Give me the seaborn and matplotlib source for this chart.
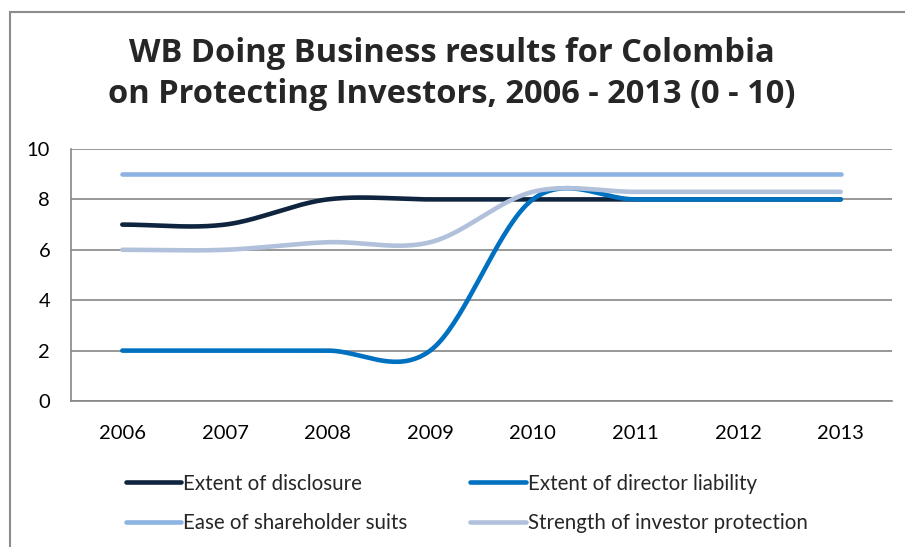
import numpy as np
import pandas as pd
import seaborn as sns
import matplotlib.pyplot as plt
from matplotlib.patches import Rectangle

years = ['2006', '2007', '2008', '2009', '2010', '2011', '2012', '2013']
disclosure = [7, 7, 8, 8, 8, 8, 8, 8]
director = [2, 2, 2, 2, 8, 8, 8, 8]
suits = [9, 9, 9, 9, 9, 9, 9, 9]
protection = [6.0, 6.0, 6.3, 6.3, 8.3, 8.3, 8.3, 8.3]

names = ['Extent of disclosure', 'Extent of director liability',
         'Ease of shareholder suits', 'Strength of investor protection']
series = [disclosure, director, suits, protection]
colors = ['#0F243E', '#0070C0', '#8DB3E2', '#B1C1DB']


def smooth(vals, n=40):
    # excel-like smoothed line (catmull-rom -> bezier segments)
    y = np.asarray(vals, dtype=float)
    x = np.arange(len(y), dtype=float)
    yp = np.concatenate([[y[0]], y, [y[-1]]])
    xs, ys = [], []
    t = np.linspace(0, 1, n)
    for i in range(len(y) - 1):
        p0, p3 = y[i], y[i + 1]
        p1 = p0 + (yp[i + 2] - yp[i]) / 6
        p2 = p3 - (yp[i + 3] - yp[i + 1]) / 6
        b = ((1 - t) ** 3 * p0 + 3 * (1 - t) ** 2 * t * p1
             + 3 * (1 - t) * t ** 2 * p2 + t ** 3 * p3)
        xs.append(x[i] + t)
        ys.append(b)
    return np.concatenate(xs), np.concatenate(ys)


rows = []
for name, vals in zip(names, series):
    sx, sy = smooth(vals)
    rows.append(pd.DataFrame({'x': sx, 'y': sy, 'series': name}))
df = pd.concat(rows, ignore_index=True)

sns.set_style('white')
plt.rcParams['font.family'] = ['Lato', 'DejaVu Sans']

W, H = 905, 547
fig = plt.figure(figsize=(W / 100, H / 100), dpi=100)
fig.patches.append(Rectangle((10 / W, -0.1), 1.2, 1 - 12 / H + 0.1, transform=fig.transFigure,
                             fill=False, edgecolor='#8C8C8C', linewidth=1.5))

ax = fig.add_axes([71 / W, 1 - 401 / H, (892 - 71) / W, (401 - 149) / H])
sns.lineplot(data=df, x='x', y='y', hue='series', palette=colors, sort=False,
             estimator=None, linewidth=3.3, legend=False, ax=ax)
for ln in ax.get_lines():
    ln.set_solid_capstyle('round')

ax.set_xlim(-0.5, len(years) - 0.5)
ax.set_ylim(0, 10)
ax.set_yticks(range(0, 11, 2))
ax.set_xticks(range(len(years)))
ax.set_xticklabels(years)
ax.set_xticks(np.arange(-0.5, len(years), 1), minor=True)
ax.tick_params(axis='x', which='major', length=0, pad=17, labelsize=14.5, colors='black')
ax.tick_params(axis='x', which='minor', length=6, width=1.2, color='#868686', direction='out')
ax.tick_params(axis='y', length=8, width=1.2, color='#868686', direction='out', pad=7,
               labelsize=14.5, labelcolor='black')
ax.grid(axis='y', color='#868686', linewidth=1.2)
ax.set_axisbelow(True)
for s in ['top', 'right']:
    ax.spines[s].set_visible(False)
for s in ['left', 'bottom']:
    ax.spines[s].set_color('#868686')
    ax.spines[s].set_linewidth(1.2)
ax.set_xlabel('')
ax.set_ylabel('')

fig.text(452 / W, 1 - 74 / H, 'WB Doing Business results for Colombia\non Protecting Investors, 2006 - 2013 (0 - 10)',
         ha='center', va='center', fontsize=23.5, fontweight='bold', linespacing=1.32,
         family=['Open Sans', 'DejaVu Sans'])

# legend fills column by column, so order rows: disclosure/director, suits/protection
order = [0, 2, 1, 3]
handles = [plt.Line2D([], [], color=colors[i], linewidth=3.3, solid_capstyle='round') for i in order]
labels = [names[i] for i in order]
fig.legend(handles, labels, ncol=2, loc='upper left', bbox_to_anchor=(107 / W, 1 - 455 / H),
           frameon=False, fontsize=14.8, handlelength=2.7, handletextpad=0.1,
           columnspacing=3.05, labelspacing=0.95)

fig.savefig('out.png', dpi=100)
